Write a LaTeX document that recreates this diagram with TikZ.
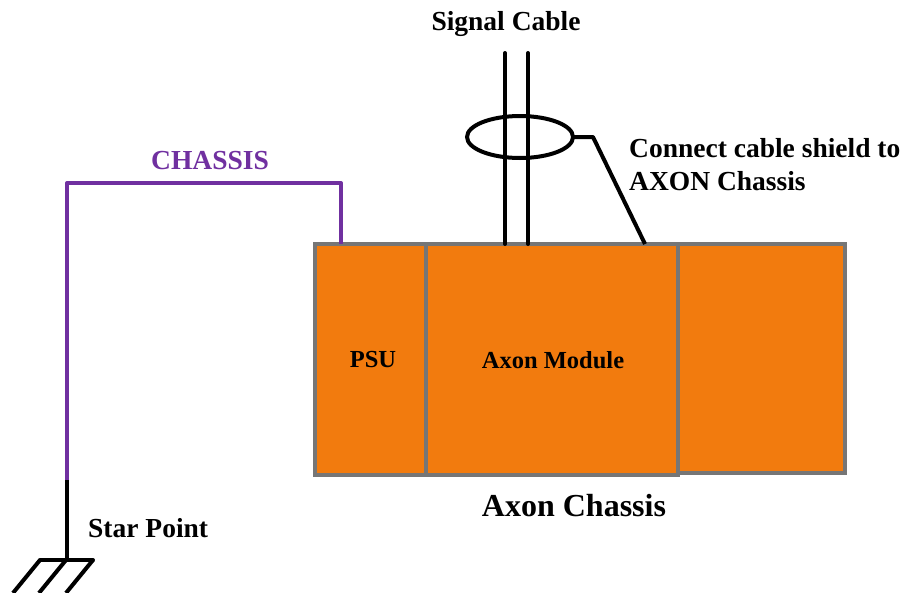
\documentclass[tikz,border=0pt]{standalone}
\usepackage{fontspec}
\setmainfont{Liberation Serif}
\usetikzlibrary{shapes.geometric}
\definecolor{boxorange}{HTML}{F27B0E}
\definecolor{boxgray}{HTML}{767676}
\definecolor{chpurple}{HTML}{7030A0}
\begin{document}
\begin{tikzpicture}[x=1pt,y=-1pt,
  unit/.style={draw=boxgray, fill=boxorange, line width=4pt, rectangle, inner sep=0pt, outer sep=0pt, anchor=north west},
  wire/.style={line width=4pt, black},
  pwire/.style={line width=4pt, chpurple},
  lbl/.style={font=\fontsize{27.5}{33}\selectfont\bfseries, inner sep=0pt},
  inlbl/.style={font=\fontsize{24.5}{29}\selectfont\bfseries, inner sep=0pt}
]
\useasboundingbox (0,0) rectangle (907,592);
% boxes
\node[unit, minimum width=111pt, minimum height=231pt] (psu) at (315,244) {};
\node[unit, minimum width=251.5pt, minimum height=231pt] (axon) at (426,244) {};
\node[unit, minimum width=167.5pt, minimum height=229pt] (right) at (677.5,244) {};
\node[inlbl] (psulbl) at (373,360) {PSU};
\node[inlbl] (axonlbl) at (553,360) {Axon Module};
\node[font=\fontsize{32}{38}\selectfont\bfseries, inner sep=0pt] (chassislbl) at (574,506) {Axon Chassis};
% signal cable
\coordinate (ca1) at (505,53);
\coordinate (ca2) at (528,53);
\coordinate (cb1) at (505,244);
\coordinate (cb2) at (528,244);
\draw[wire, line cap=round] (ca1) -- (cb1);
\draw[wire, line cap=round] (ca2) -- (cb2);
\node[draw, line width=4pt, ellipse, minimum width=106pt, minimum height=42pt, inner sep=0pt, outer sep=0pt] (shield) at (520,137) {};
\coordinate (sh1) at (593,137);
\coordinate (sh2) at (645,244);
\draw[wire, line join=round] (shield.east) -- (sh1) -- (sh2);
\node[lbl] (siglbl) at (506,24) {Signal Cable};
\node[lbl, align=left, anchor=west] (connlbl) at (629,165) {Connect cable shield to\\AXON Chassis};
% chassis ground wire
\coordinate (g0) at (67,480);
\coordinate (g1) at (67,183);
\coordinate (g2) at (341,183);
\coordinate (g3) at (341,244);
\draw[pwire, line join=round] (g0) -- (g1) -- (g2) -- (g3);
\node[lbl, text=chpurple] (chlbl) at (210,161) {CHASSIS};
% star point
\coordinate (gs) at (67,560);
\draw[wire] (g0) -- (gs);
\draw[wire, line cap=round] (40,560) -- (93,560);
\draw[wire] (40,560) -- (13,593);
\draw[wire] (66,560) -- (39,593);
\draw[wire] (93,560) -- (66,593);
\node[lbl, anchor=west] (splbl) at (88,528) {Star Point};
\end{tikzpicture}
\end{document}
